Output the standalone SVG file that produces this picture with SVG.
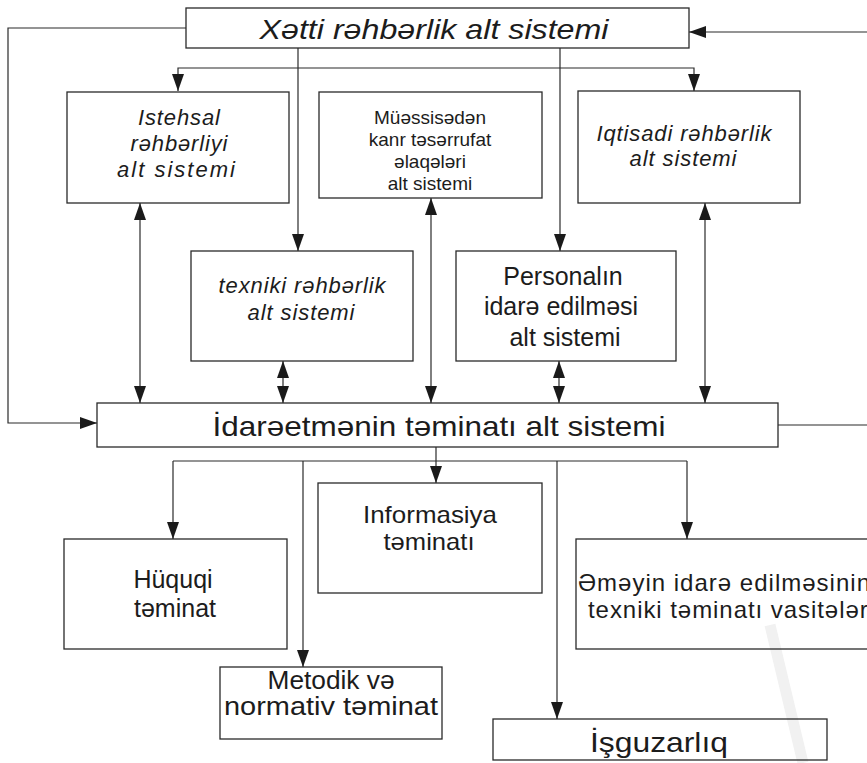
<svg xmlns="http://www.w3.org/2000/svg" width="867" height="763" viewBox="0 0 867 763">
  <style>
    .box { fill: none; stroke: #2a2a2a; stroke-width: 1.3; }
    .ln { fill: none; stroke: #2a2a2a; stroke-width: 1.2; }
    .arr { marker-end: url(#head); }
    .dbl { marker-start: url(#head); marker-end: url(#head); }
    text { font-family: "Liberation Sans", Arial, sans-serif; fill: #1c1c1c; text-anchor: middle; }
    .it { font-style: italic; }
    .t18 { font-size: 19px; }
    .t22 { font-size: 22px; }
    .t24 { font-size: 24px; }
    .t25 { font-size: 25px; }
    .t28 { font-size: 28px; }
  </style>
  <defs>
    <marker id="head" markerUnits="userSpaceOnUse" markerWidth="17" markerHeight="12" refX="17" refY="6" orient="auto-start-reverse">
      <path d="M0,0 L17,6 L0,12 z" fill="#1a1a1a"/>
    </marker>
  </defs>

  <rect width="867" height="763" fill="#ffffff"/>
  <!-- faint diagonal mark, lower right -->
  <line x1="770" y1="625" x2="803" y2="763" stroke="#f1f1f1" stroke-width="11"/>

  <g id="connectors">
    <!-- feedback loops -->
    <polyline class="ln arr" points="186,28 8,28 8,423 97,423"/>
    <line class="ln" x1="778" y1="425" x2="867" y2="425"/>
    <line class="ln arr" x1="867" y1="32" x2="689" y2="32"/>
    <!-- from the top subsystem -->
    <polyline class="ln dbl" points="178,91 178,68 694,68 694,91"/>
    <line class="ln arr" x1="298" y1="48" x2="298" y2="251"/>
    <line class="ln arr" x1="560" y1="48" x2="560" y2="251"/>
    <!-- two-way links with the support subsystem -->
    <line class="ln dbl" x1="140" y1="203" x2="140" y2="403"/>
    <line class="ln dbl" x1="283" y1="361" x2="283" y2="403"/>
    <line class="ln dbl" x1="431" y1="198" x2="431" y2="403"/>
    <line class="ln dbl" x1="559" y1="361" x2="559" y2="403"/>
    <line class="ln dbl" x1="705" y1="203" x2="705" y2="403"/>
    <!-- from the support subsystem downwards -->
    <line class="ln arr" x1="436" y1="447" x2="436" y2="483"/>
    <line class="ln" x1="173" y1="461" x2="687" y2="461"/>
    <line class="ln arr" x1="173" y1="461" x2="173" y2="539"/>
    <line class="ln arr" x1="303" y1="461" x2="303" y2="667"/>
    <line class="ln arr" x1="557" y1="461" x2="557" y2="719"/>
    <line class="ln arr" x1="687" y1="461" x2="687" y2="539"/>
  </g>

  <g id="xetti">
    <rect class="box" x="186" y="8" width="503" height="40"/>
    <text class="it t28" x="434" y="39" textLength="349" lengthAdjust="spacingAndGlyphs">Xətti rəhbərlik alt sistemi</text>
  </g>

  <g id="istehsal">
    <rect class="box" x="67" y="92" width="222" height="111"/>
    <text class="it t22" x="179" y="125" textLength="82" lengthAdjust="spacing">Istehsal</text>
    <text class="it t22" x="179" y="151" textLength="97" lengthAdjust="spacing">rəhbərliyi</text>
    <text class="it t22" x="176" y="177" textLength="118" lengthAdjust="spacing">alt sistemi</text>
  </g>

  <g id="muessise">
    <rect class="box" x="319" y="92" width="223" height="106"/>
    <text class="t18" x="430" y="124">Müəssisədən</text>
    <text class="t18" x="430" y="146">kanr təsərrufat</text>
    <text class="t18" x="430" y="168">əlaqələri</text>
    <text class="t18" x="430" y="190">alt sistemi</text>
  </g>

  <g id="iqtisadi">
    <rect class="box" x="578" y="91" width="222" height="112"/>
    <text class="it t22" x="684" y="141" textLength="175" lengthAdjust="spacing">Iqtisadi rəhbərlik</text>
    <text class="it t22" x="683" y="166" textLength="107" lengthAdjust="spacing">alt sistemi</text>
  </g>

  <g id="texniki">
    <rect class="box" x="191" y="251" width="222" height="110"/>
    <text class="it t22" x="302" y="293" textLength="167" lengthAdjust="spacing">texniki rəhbərlik</text>
    <text class="it t22" x="301" y="320" textLength="107" lengthAdjust="spacing">alt sistemi</text>
  </g>

  <g id="personal">
    <rect class="box" x="456" y="251" width="220" height="110"/>
    <text class="t25" x="563" y="285">Personalın</text>
    <text class="t25" x="561" y="315">idarə edilməsi</text>
    <text class="t25" x="565" y="346">alt sistemi</text>
  </g>

  <g id="teminat-sistemi">
    <rect class="box" x="97" y="403" width="681" height="44"/>
    <text class="t28" x="439" y="436" textLength="453" lengthAdjust="spacingAndGlyphs">İdarəetmənin təminatı alt sistemi</text>
  </g>

  <g id="informasiya">
    <rect class="box" x="318" y="483" width="224" height="110"/>
    <text class="t24" x="430" y="523" textLength="134" lengthAdjust="spacingAndGlyphs">Informasiya</text>
    <text class="t24" x="429" y="550" textLength="91" lengthAdjust="spacingAndGlyphs">təminatı</text>
  </g>

  <g id="huquqi">
    <rect class="box" x="64" y="539" width="223" height="110"/>
    <text class="t25" x="173" y="588">Hüquqi</text>
    <text class="t25" x="175" y="617">təminat</text>
  </g>

  <g id="emeyin">
    <rect class="box" x="576" y="539" width="310" height="110"/>
    <text class="t24" x="578" y="591" style="text-anchor:start" textLength="292" lengthAdjust="spacing">Əməyin idarə edilməsinin</text>
    <text class="t24" x="588" y="618" style="text-anchor:start" textLength="286" lengthAdjust="spacing">texniki təminatı vasitələri</text>
  </g>

  <g id="metodik">
    <rect class="box" x="220" y="667" width="222" height="72"/>
    <text class="t25" x="331" y="689" textLength="127" lengthAdjust="spacingAndGlyphs">Metodik və</text>
    <text class="t25" x="331" y="715" textLength="214" lengthAdjust="spacingAndGlyphs">normativ təminat</text>
  </g>

  <g id="isguzarliq">
    <rect class="box" x="493" y="719" width="334" height="41"/>
    <text class="t28" x="659" y="752" textLength="138" lengthAdjust="spacingAndGlyphs">İşguzarlıq</text>
  </g>
</svg>
